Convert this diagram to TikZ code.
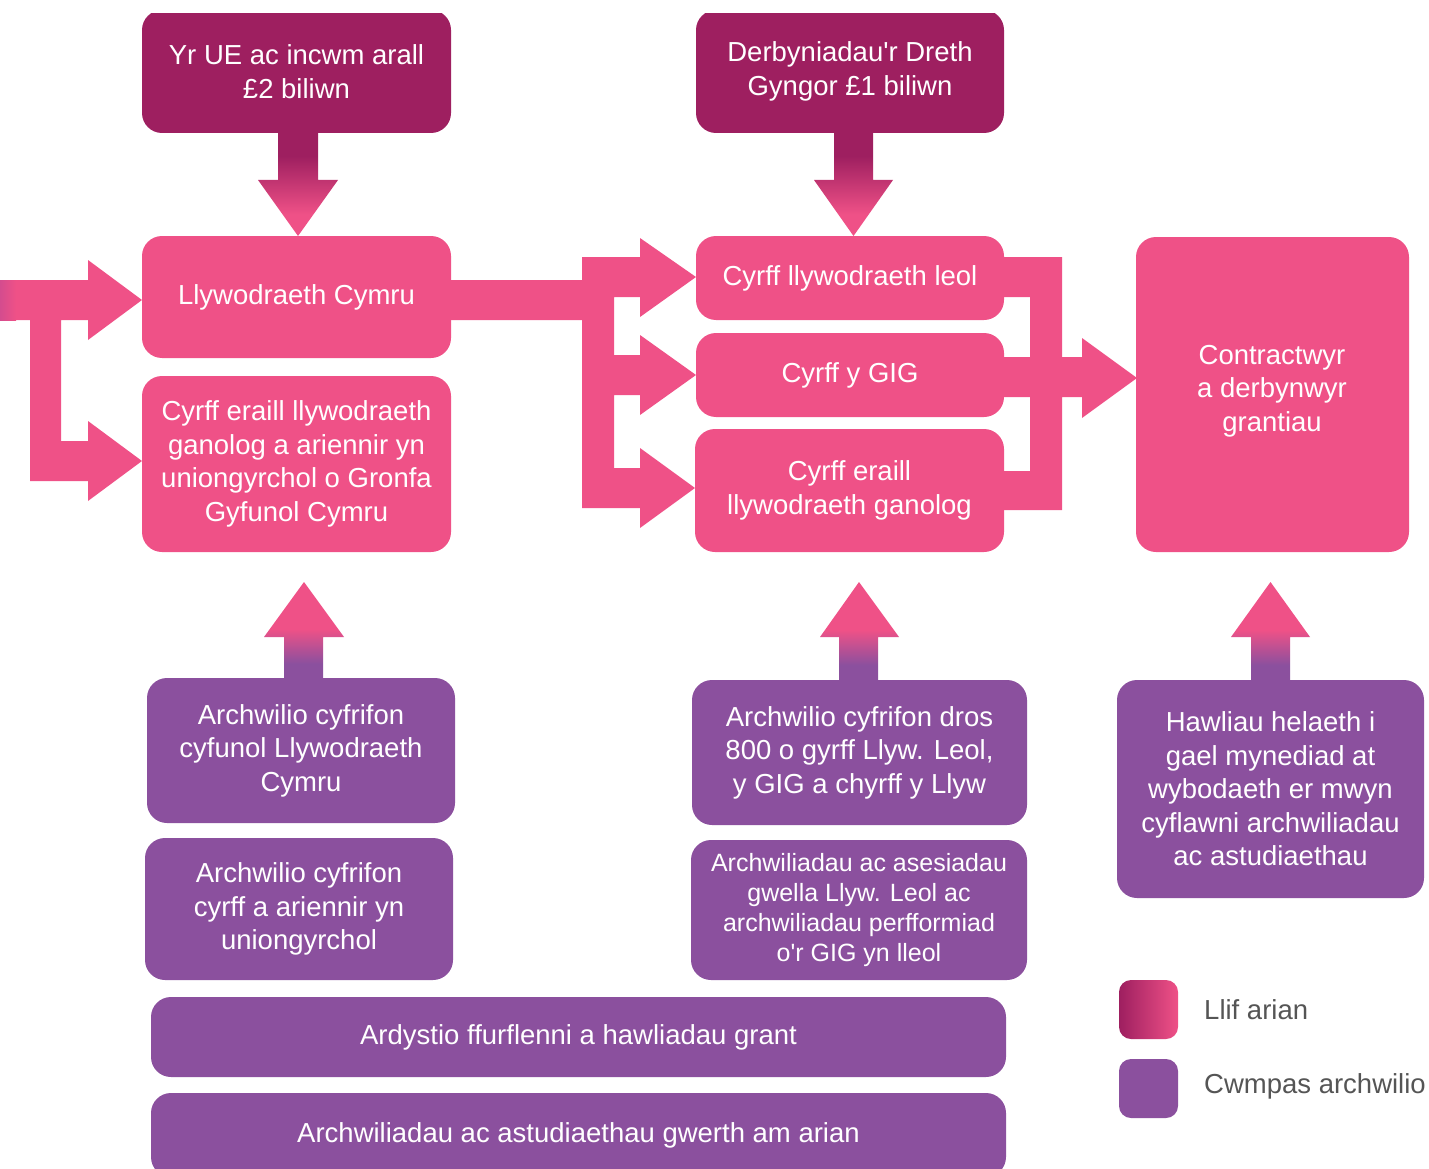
\documentclass[tikz,border=0pt]{standalone}
\usepackage{fontspec}
\setmainfont{Liberation Sans}[Ligatures=TeXOff]
\usetikzlibrary{backgrounds}
\definecolor{fdark}{RGB}{158,31,96}
\definecolor{fpink}{RGB}{239,81,135}
\definecolor{apurple}{RGB}{139,80,158}
\definecolor{lgray}{RGB}{85,85,85}
\definecolor{lmid}{RGB}{200,75,138}
\definecolor{edgemix}{RGB}{212,76,142}
\pgfdeclareverticalshading{downflow}{100bp}{color(0bp)=(fpink); color(35bp)=(fpink); color(62bp)=(fdark); color(100bp)=(fdark)}
\pgfdeclareverticalshading{upflow}{100bp}{color(0bp)=(apurple); color(35bp)=(apurple); color(52bp)=(fpink); color(100bp)=(fpink)}
\begin{document}
\begin{tikzpicture}[x=1pt,y=-1pt,
  boxbase/.style={rounded corners=20pt, inner sep=0pt, text=white, align=center,
    font=\fontsize{27.5}{33.5}\selectfont},
  flowtop/.style={boxbase, fill=fdark},
  flowbox/.style={boxbase, fill=fpink},
  auditbox/.style={boxbase, fill=apurple},
  blockpink/.style={fill=fpink},
  legendsq/.style={rounded corners=12pt},
  legendtxt/.style={anchor=west, inner sep=0pt, text=lgray, font=\fontsize{27.5}{33.5}\selectfont}]
\useasboundingbox (0,0) rectangle (1429,1169);
\begin{scope}
\clip (0,14) rectangle (1429,1169);
% ---------- boxes ----------
\node[flowtop, minimum width=309pt, minimum height=123pt] (inA) at (296.5,71.5) {Yr UE ac incwm arall\\£2 biliwn};
\node[flowtop, minimum width=308pt, minimum height=123pt] (inB) at (850,71.5) {Derbyniadau'r Dreth\\Gyngor £1 biliwn};
\node[flowbox, minimum width=309pt, minimum height=122pt] (llyw) at (296.5,297) {Llywodraeth Cymru};
\node[flowbox, minimum width=309pt, minimum height=176pt] (eraill) at (296.5,464) {Cyrff eraill llywodraeth\\ganolog a ariennir yn\\uniongyrchol o Gronfa\\Gyfunol Cymru};
\node[flowbox, minimum width=308pt, minimum height=84pt] (leol) at (850,278) {Cyrff llywodraeth leol};
\node[flowbox, minimum width=308pt, minimum height=84pt] (gig) at (850,375) {Cyrff y GIG};
\node[flowbox, minimum width=309pt, minimum height=123pt] (canol) at (849.5,490.5) {Cyrff eraill\\llywodraeth ganolog};
\node[flowbox, minimum width=273pt, minimum height=315pt] (contr) at (1272.5,394.5) {};
\node[boxbase] (contrtxt) at (1272,391) {Contractwyr\\a derbynwyr\\grantiau};
\node[auditbox, minimum width=308pt, minimum height=145pt] (au1) at (301,750.5) {\rule{0pt}{3pt}Archwilio cyfrifon\\cyfunol Llywodraeth\\Cymru};
\node[auditbox, minimum width=308pt, minimum height=142pt] (au2) at (299,909) {\rule{0pt}{3pt}Archwilio cyfrifon\\cyrff a ariennir yn\\uniongyrchol};
\node[auditbox, minimum width=335pt, minimum height=145pt] (au3) at (859.5,752.5) {Archwilio cyfrifon dros\\800 o gyrff Llyw. Leol,\\y GIG a chyrff y Llyw};
\node[auditbox, minimum width=336pt, minimum height=140pt, font=\fontsize{25}{30}\selectfont] (au4) at (859,910) {\rule{0pt}{3pt}Archwiliadau ac asesiadau\\gwella Llyw. Leol ac\\archwiliadau perfformiad\\o'r GIG yn lleol};
\node[auditbox, minimum width=307pt, minimum height=218pt] (au5) at (1270.5,789) {Hawliau helaeth i\\gael mynediad at\\wybodaeth er mwyn\\cyflawni archwiliadau\\ac astudiaethau};
\node[auditbox, minimum width=855pt, minimum height=80pt] (au6) at (578.5,1037) {Ardystio ffurflenni a hawliadau grant};
\node[auditbox, minimum width=855pt, minimum height=84pt] (au7) at (578.5,1135) {Archwiliadau ac astudiaethau gwerth am arian};
% ---------- block arrows (behind boxes) ----------
\begin{pgfonlayer}{background}
% into Llywodraeth Cymru and direct-funded bodies
\fill[blockpink] (0,280) -- (88,280) -- (88,260) -- (142,300) -- (88,340) -- (88,320) -- (61,320)
  -- (61,441) -- (88,441) -- (88,421) -- (142,461) -- (88,501) -- (88,481) -- (30,481) -- (30,320)
  -- (0,320) -- cycle;
\shade[left color=edgemix, right color=fpink] (0,280) rectangle (16,320);
% Llywodraeth Cymru -> local bodies
\fill[blockpink] (445,280) -- (582,280) -- (582,257) -- (640,257) -- (640,238) -- (696,277) -- (640,317)
  -- (640,297) -- (614,297) -- (614,355) -- (640,355) -- (640,335) -- (696,375) -- (640,415)
  -- (640,395) -- (614,395) -- (614,468) -- (640,468) -- (640,448) -- (695,488) -- (640,528)
  -- (640,508) -- (582,508) -- (582,320) -- (445,320) -- cycle;
% bodies -> contractors
\fill[blockpink] (998,257) -- (1062,257) -- (1062,357) -- (1082,357) -- (1082,338) -- (1137,378)
  -- (1082,418) -- (1082,397) -- (1062,397) -- (1062,510) -- (998,510) -- (998,471) -- (1030,471)
  -- (1030,397) -- (998,397) -- (998,357) -- (1030,357) -- (1030,297) -- (998,297) -- cycle;
% income arrows (down)
\shade[shading=downflow] (278,128) -- (318,128) -- (318,180) -- (338,180) -- (298,236) -- (258,180) -- (278,180) -- cycle;
\shade[shading=downflow] (834,128) -- (873,128) -- (873,180) -- (893,180) -- (853.5,236) -- (814,180) -- (834,180) -- cycle;
% audit arrows (up)
\shade[shading=upflow] (304,582) -- (344,637) -- (323,637) -- (323,684) -- (284,684) -- (284,637) -- (264,637) -- cycle;
\shade[shading=upflow] (859,582) -- (899,637) -- (878,637) -- (878,686) -- (839,686) -- (839,637) -- (820,637) -- cycle;
\shade[shading=upflow] (1270.5,582) -- (1310,637) -- (1290,637) -- (1290,686) -- (1251,686) -- (1251,637) -- (1231,637) -- cycle;
\end{pgfonlayer}
\end{scope}
% ---------- legend ----------
\shade[legendsq, left color=fdark, middle color=lmid, right color=fpink] (1119,980) rectangle (1178,1039);
\fill[legendsq, apurple] (1119,1059) rectangle (1178,1118);
\node[legendtxt] (lg1) at (1204,1010) {Llif arian};
\node[legendtxt] (lg2) at (1204,1086) {Cwmpas archwilio};
\end{tikzpicture}
\end{document}
